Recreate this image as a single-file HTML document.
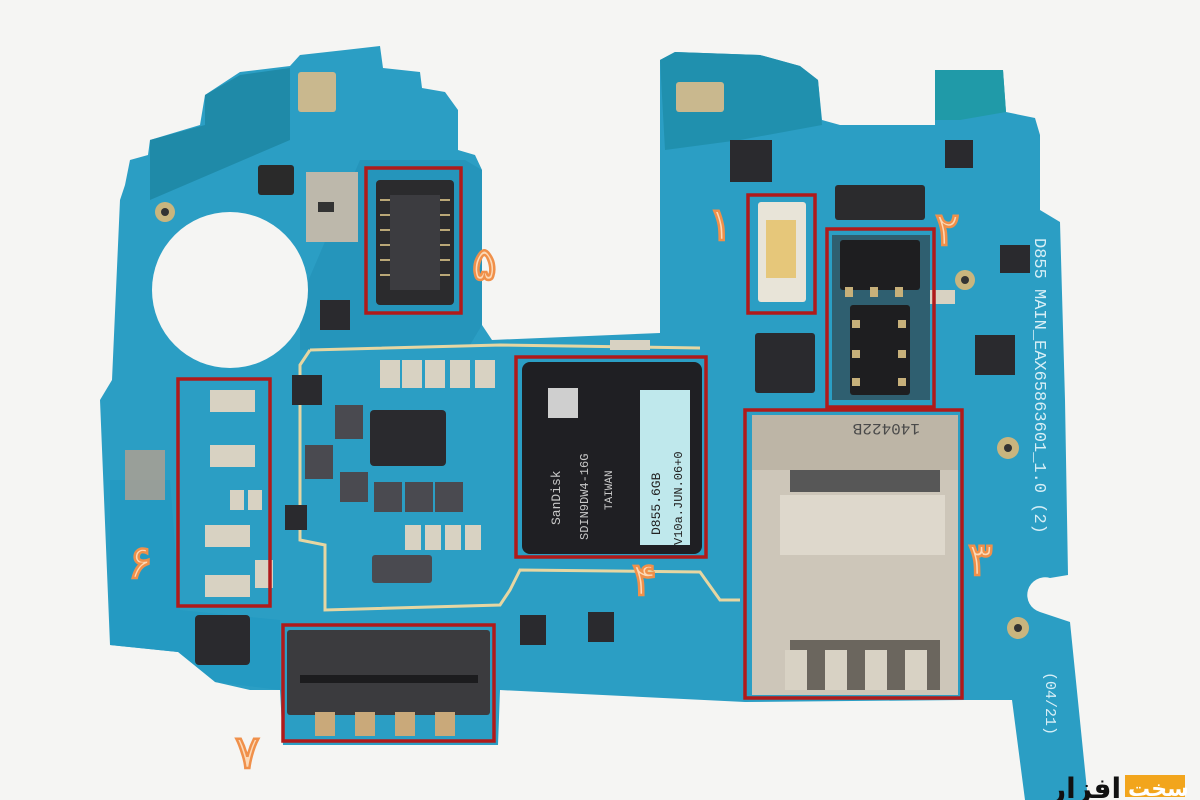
<!DOCTYPE html>
<html><head><meta charset="utf-8"><style>
html,body{margin:0;padding:0;background:#f5f5f3;}
svg{display:block}
</style></head><body>
<svg width="1200" height="800" viewBox="0 0 1200 800" xmlns="http://www.w3.org/2000/svg">
<rect width="1200" height="800" fill="#f5f5f3"/>
<!-- board -->
<path d="M125,185 L130,160 L148,155 L150,140 L200,125 L205,95 L240,72 L290,66 L300,55 L345,50 L380,46 L383,68 L420,72 L422,88 L445,92 L458,110 L458,150 L475,155 L482,170 L482,325 L492,340 L660,333 L660,60 L675,52 L760,55 L800,66 L818,80 L822,120 L840,125 L935,125 L935,70 L1003,70 L1006,112 L1035,118 L1040,135 L1040,210 L1060,222 L1065,400 L1068,575 L1050,578 A16,16 0 0 0 1040,612 L1070,622 L1088,800 L1025,800 L1012,700 L965,700 L745,702 L500,690 L498,745 L283,745 L280,690 L250,690 L215,682 A18,18 0 0 0 178,652 L110,645 L100,400 L112,380 L120,200 Z" fill="#2b9ec4"/>
<path d="M110,480 L110,645 L178,652 L215,682 L280,690 L280,620 L180,610 L170,480 Z" fill="#249ac2"/>
<path d="M300,300 L300,350 L470,345 L482,325 L482,170 L465,160 L360,160 Z" fill="#2595bb"/>
<path d="M150,200 L150,140 L205,125 L205,95 L240,75 L290,68 L290,140 Z" fill="#1f8aa8"/>
<path d="M660,60 L675,52 L760,55 L800,66 L818,80 L822,125 L740,140 L665,150 Z" fill="#2090ae"/>
<path d="M935,70 L1003,70 L1006,112 L960,120 L935,120 Z" fill="#209aa8"/>
<!-- beige trace outline -->
<path d="M310,350 L300,365 L300,540 L325,545 L325,610 L500,605 L510,590 L520,570 L700,572 L720,600 L740,600" fill="none" stroke="#e6d6a2" stroke-width="3"/>
<path d="M310,350 L500,345 L700,348" fill="none" stroke="#e6d6a2" stroke-width="3"/>
<!-- hole -->
<circle cx="230" cy="290" r="78" fill="#f5f5f3"/>
<!-- small components -->
<g fill="#d8d2c2">
<rect x="298" y="72" width="38" height="40" rx="3" fill="#c9b88e"/>
<rect x="676" y="82" width="48" height="30" rx="3" fill="#c9b88e"/>
<rect x="258" y="165" width="36" height="30" rx="3" fill="#2a2a2a"/>
<rect x="306" y="172" width="52" height="70" fill="#bdb8ab"/>
<rect x="318" y="202" width="16" height="10" fill="#333"/>
<rect x="380" y="360" width="20" height="28"/><rect x="402" y="360" width="20" height="28"/><rect x="425" y="360" width="20" height="28"/><rect x="450" y="360" width="20" height="28"/><rect x="475" y="360" width="20" height="28"/>
<rect x="405" y="525" width="16" height="25"/><rect x="425" y="525" width="16" height="25"/><rect x="445" y="525" width="16" height="25"/><rect x="465" y="525" width="16" height="25"/>
<rect x="210" y="390" width="45" height="22"/><rect x="210" y="445" width="45" height="22"/><rect x="205" y="525" width="45" height="22"/><rect x="205" y="575" width="45" height="22"/>
<rect x="230" y="490" width="14" height="20"/><rect x="248" y="490" width="14" height="20"/>
<rect x="255" y="560" width="18" height="28"/>
<rect x="610" y="340" width="40" height="10"/>
<rect x="915" y="290" width="40" height="14"/>
</g>
<g fill="#2a2a2e">
<rect x="370" y="410" width="76" height="56" rx="4"/>
<rect x="755" y="333" width="60" height="60" rx="3"/>
<rect x="195" y="615" width="55" height="50" rx="4"/>
<rect x="730" y="140" width="42" height="42"/>
<rect x="945" y="140" width="28" height="28"/>
<rect x="975" y="335" width="40" height="40"/>
<rect x="1000" y="245" width="30" height="28"/>
<rect x="320" y="300" width="30" height="30"/>
<rect x="292" y="375" width="30" height="30"/>
<rect x="520" y="615" width="26" height="30"/>
<rect x="588" y="612" width="26" height="30"/>
<rect x="125" y="450" width="40" height="50" fill="#c9a087" opacity="0.7"/>
<rect x="285" y="505" width="22" height="25"/>
</g>
<g fill="#4a4a50">
<rect x="335" y="405" width="28" height="34"/><rect x="305" y="445" width="28" height="34"/>
<rect x="340" y="472" width="28" height="30"/><rect x="374" y="482" width="28" height="30"/><rect x="405" y="482" width="28" height="30"/><rect x="435" y="482" width="28" height="30"/>
<rect x="372" y="555" width="60" height="28" rx="3"/>
</g>
<!-- connector 5 -->
<rect x="376" y="180" width="78" height="125" rx="4" fill="#2b2b2d"/>
<rect x="390" y="195" width="50" height="95" fill="#3c3c40"/>
<g stroke="#b9a777" stroke-width="2">
<line x1="380" y1="200" x2="390" y2="200"/><line x1="380" y1="215" x2="390" y2="215"/><line x1="380" y1="230" x2="390" y2="230"/><line x1="380" y1="245" x2="390" y2="245"/><line x1="380" y1="260" x2="390" y2="260"/><line x1="380" y1="275" x2="390" y2="275"/>
<line x1="440" y1="200" x2="450" y2="200"/><line x1="440" y1="215" x2="450" y2="215"/><line x1="440" y1="230" x2="450" y2="230"/><line x1="440" y1="245" x2="450" y2="245"/><line x1="440" y1="260" x2="450" y2="260"/><line x1="440" y1="275" x2="450" y2="275"/>
</g>
<!-- top right connector -->
<rect x="835" y="185" width="90" height="35" rx="3" fill="#2b2b2d"/>
<!-- LED 1 -->
<rect x="758" y="202" width="48" height="100" rx="3" fill="#e8e4d8"/>
<rect x="766" y="220" width="30" height="58" fill="#e6c77a"/>
<!-- connector 2 area -->
<rect x="832" y="235" width="98" height="165" fill="#2f5f70"/>
<g fill="#1e1e20">
<rect x="840" y="240" width="80" height="50" rx="3"/>
<rect x="850" y="305" width="60" height="90" rx="3"/>
</g>
<g fill="#c7b07a">
<rect x="845" y="287" width="8" height="10"/><rect x="870" y="287" width="8" height="10"/><rect x="895" y="287" width="8" height="10"/>
<rect x="852" y="320" width="8" height="8"/><rect x="852" y="350" width="8" height="8"/><rect x="852" y="378" width="8" height="8"/>
<rect x="898" y="320" width="8" height="8"/><rect x="898" y="350" width="8" height="8"/><rect x="898" y="378" width="8" height="8"/>
</g>
<!-- antenna sockets -->
<g fill="#c9b57e"><circle cx="165" cy="212" r="10"/><circle cx="965" cy="280" r="10"/><circle cx="1008" cy="448" r="11"/><circle cx="1018" cy="628" r="11"/></g>
<g fill="#333"><circle cx="165" cy="212" r="4"/><circle cx="965" cy="280" r="4"/><circle cx="1008" cy="448" r="4"/><circle cx="1018" cy="628" r="4"/></g>
<!-- SanDisk chip -->
<rect x="522" y="362" width="180" height="192" rx="8" fill="#1f1f23"/>
<rect x="548" y="388" width="30" height="30" fill="#cfcfcf"/>
<rect x="640" y="390" width="50" height="155" fill="#bfe8ec"/>
<g font-family="Liberation Mono, monospace" font-size="13" fill="#c8c8c8">
<text transform="translate(560,525) rotate(-90)">SanDisk</text>
<text transform="translate(588,540) rotate(-90)" font-size="12">SDIN9DW4-16G</text>
<text transform="translate(612,510) rotate(-90)" font-size="11">TAIWAN</text>
</g>
<g font-family="Liberation Mono, monospace" font-size="13" fill="#222">
<text transform="translate(660,535) rotate(-90)">D855.6GB</text>
<text transform="translate(682,545) rotate(-90)" font-size="12">V10a.JUN.06+0</text>
</g>
<!-- SD card -->
<rect x="752" y="415" width="206" height="280" fill="#cdc6b9"/>
<rect x="752" y="415" width="206" height="55" fill="#bdb5a6"/>
<text x="790" y="432" font-family="Liberation Mono, monospace" font-size="16" fill="#4a4a4a" transform="rotate(180,855,428)">14042​2B</text>
<rect x="790" y="470" width="150" height="22" fill="#575757"/>
<rect x="780" y="495" width="165" height="60" fill="#ded8cc"/>
<rect x="790" y="640" width="150" height="50" fill="#6b665e"/>
<g fill="#d8d2c4"><rect x="785" y="650" width="22" height="40"/><rect x="825" y="650" width="22" height="40"/><rect x="865" y="650" width="22" height="40"/><rect x="905" y="650" width="22" height="40"/></g>
<!-- connector 7 -->
<rect x="287" y="630" width="203" height="85" rx="3" fill="#3b3b3e"/>
<rect x="300" y="675" width="178" height="8" fill="#1c1c1e"/>
<g fill="#c9a97a"><rect x="315" y="712" width="20" height="24"/><rect x="355" y="712" width="20" height="24"/><rect x="395" y="712" width="20" height="24"/><rect x="435" y="712" width="20" height="24"/></g>
<!-- red boxes -->
<g fill="none" stroke="#b01a1a" stroke-width="3.5">
<rect x="748" y="195" width="67" height="118"/>
<rect x="827" y="229" width="107" height="178"/>
<rect x="745" y="410" width="217" height="288"/>
<rect x="516" y="357" width="190" height="200"/>
<rect x="366" y="168" width="95" height="145"/>
<rect x="178" y="379" width="92" height="227"/>
<rect x="283" y="625" width="211" height="116"/>
</g>
<!-- board text -->
<text transform="translate(1035,238) rotate(90)" font-family="Liberation Mono, monospace" font-size="17" fill="#d6eef6">D855 MAIN_EAX65863601_1.0 (2)</text>
<text transform="translate(1046,672) rotate(90)" font-family="Liberation Mono, monospace" font-size="15" fill="#d6eef6">(04/21)</text>
<!-- labels -->
<g font-family="DejaVu Sans, sans-serif" font-size="46" fill="#fcd9b6" stroke="#f0904a" stroke-width="2.5">
<text x="708" y="240">۱</text>
<text x="935" y="245">۲</text>
<text x="968" y="575">۳</text>
<text x="632" y="595">۴</text>
<text x="472" y="280">۵</text>
<text x="128" y="578">۶</text>
<text x="235" y="768">۷</text>
</g>
<!-- logo -->
<rect x="1125" y="775" width="60" height="22" fill="#f2a51c"/>
<text x="1050" y="798" font-family="DejaVu Sans, sans-serif" font-size="28" font-weight="bold" fill="#111">افزار</text>
<text x="1128" y="796" font-family="DejaVu Sans, sans-serif" font-size="22" font-weight="bold" fill="#fff">سخت</text>
</svg>
</body></html>
